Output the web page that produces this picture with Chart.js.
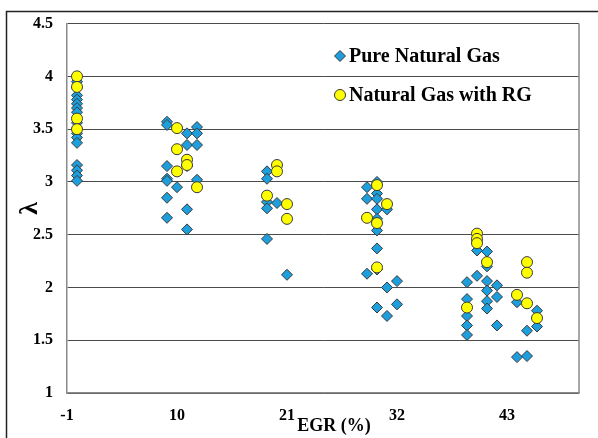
<!DOCTYPE html>
<html>
<head>
<meta charset="utf-8">
<script src="https://cdn.jsdelivr.net/npm/chart.js@4.4.1/dist/chart.umd.min.js"></script>
<style>
html, body { margin: 0; padding: 0; background: #fff; }
#wrap { position: relative; width: 598px; height: 438px; }
</style>
</head>
<body>
<div id="wrap"><canvas id="lambdaChart" width="598" height="438"></canvas></div>
<script>
// EGR (%) ticks on the horizontal axis
const xTicks = [-1, 10, 21, 32, 43];

// Pure natural gas: EGR and lambda
const egrPure = [
  0, 0, 0, 0, 0, 0, 0, 0, 0, 0, 0, 0, 0, 0,
  9, 9, 9, 9, 9, 9, 9, 10, 11, 11, 11, 11, 11, 12, 12, 12, 12,
  19, 19, 19, 19, 19, 20, 21,
  29, 29, 29, 30, 30, 30, 30, 30, 30, 30, 30, 30, 31, 31, 31, 32, 32,
  39, 39, 39, 39, 39, 39, 40, 40, 41, 41, 41, 41, 41, 41, 42, 42, 42, 44, 44, 45, 45, 46, 46
];
const lambdaPure = [
  3.95, 3.82, 3.78, 3.74, 3.70, 3.66, 3.56, 3.46, 3.42, 3.37, 3.16, 3.11, 3.06, 3.01,
  3.57, 3.54, 3.15, 3.03, 3.01, 2.85, 2.66, 2.95, 3.46, 3.35, 3.15, 2.74, 2.55, 3.52, 3.46, 3.35, 3.02,
  3.10, 3.03, 2.81, 2.75, 2.46, 2.80, 2.12,
  2.95, 2.84, 2.13, 3.00, 2.89, 2.84, 2.74, 2.65, 2.54, 2.37, 2.17, 1.81, 2.74, 2.00, 1.73, 2.06, 1.84,
  2.05, 1.89, 1.81, 1.73, 1.64, 1.55, 2.35, 2.11, 2.34, 2.20, 2.06, 1.97, 1.87, 1.80, 2.02, 1.91, 1.64, 1.86, 1.34, 1.59, 1.35, 1.78, 1.63
];

// Natural gas with RG: EGR and lambda
const egrRG = [
  0, 0, 0, 0,
  10, 10, 10, 11, 11, 12,
  19, 20, 20, 21, 21,
  29, 30, 30, 30, 31,
  39, 40, 40, 40, 41, 44, 45, 45, 45, 46
];
const lambdaRG = [
  4.00, 3.90, 3.60, 3.50,
  3.51, 3.31, 3.10, 3.21, 3.16, 2.95,
  2.87, 3.16, 3.10, 2.79, 2.65,
  2.66, 2.97, 2.61, 2.19, 2.79,
  1.81, 2.51, 2.46, 2.42, 2.24, 1.93, 2.24, 2.14, 1.85, 1.71
];

const seriesNames = ['Pure Natural Gas', 'Natural Gas with RG'];

const serif = "'Liberation Serif', 'Times New Roman', serif";
const blue = '#1C9FDC';
const yellow = '#FFFF00';
const edge = '#3A3A3A';

function toPoints(xs, ys) {
  return xs.map((x, i) => ({ x: x, y: ys[i] }));
}

// cadre, bordure du graphe, légende et titre de l'axe x
const decorPlugin = {
  id: 'decor',
  beforeDraw(chart) {
    const ctx = chart.ctx;
    ctx.save();
    ctx.fillStyle = '#fff';
    ctx.fillRect(0, 0, chart.width, chart.height);
    ctx.strokeStyle = '#222';
    ctx.lineWidth = 1.5;
    ctx.beginPath();
    ctx.moveTo(6.5, chart.height);
    ctx.lineTo(6.5, 11.5);
    ctx.lineTo(chart.width, 11.5);
    ctx.stroke();
    ctx.restore();
  },
  beforeDatasetsDraw(chart) {
    const ctx = chart.ctx;
    const a = chart.chartArea;
    ctx.save();
    ctx.strokeStyle = '#8a8a8a';
    ctx.lineWidth = 1.5;
    ctx.beginPath();
    ctx.moveTo(a.right, a.top);
    ctx.lineTo(a.right, a.bottom);
    ctx.stroke();
    ctx.restore();
  },
  afterDraw(chart) {
    const ctx = chart.ctx;
    ctx.save();
    // légende
    const rows = [
      { y: 56, style: 'rectRot', radius: 5.5, fill: blue, text: seriesNames[0] },
      { y: 95, style: 'circle', radius: 5.5, fill: yellow, text: seriesNames[1] }
    ];
    rows.forEach(r => {
      ctx.fillStyle = r.fill;
      ctx.strokeStyle = edge;
      ctx.lineWidth = 1;
      Chart.helpers.drawPoint(ctx, { pointStyle: r.style, radius: r.radius, rotation: 0, borderWidth: 1 }, 340, r.y);
      ctx.fillStyle = '#000';
      ctx.font = 'bold 20px ' + serif;
      ctx.textAlign = 'left';
      ctx.textBaseline = 'middle';
      ctx.fillText(r.text, 349, r.y + 1);
    });
    // titre de l'axe x
    ctx.font = 'bold 18px ' + serif;
    ctx.textAlign = 'center';
    ctx.textBaseline = 'middle';
    ctx.fillStyle = '#000';
    ctx.fillText('EGR (%)', 334, 426);
    ctx.restore();
  }
};

const canvas = document.getElementById('lambdaChart');
new Chart(canvas.getContext('2d'), {
  type: 'scatter',
  data: {
    datasets: [
      {
        label: seriesNames[0],
        data: toPoints(egrPure, lambdaPure),
        pointStyle: 'rectRot',
        pointRadius: 5.5,
        pointHoverRadius: 5.5,
        backgroundColor: blue,
        borderColor: edge,
        borderWidth: 1,
        clip: false,
        order: 1
      },
      {
        label: seriesNames[1],
        data: toPoints(egrRG, lambdaRG),
        pointStyle: 'circle',
        pointRadius: 5.5,
        pointHoverRadius: 5.5,
        backgroundColor: yellow,
        borderColor: edge,
        borderWidth: 1,
        clip: false,
        order: 0
      }
    ]
  },
  options: {
    responsive: false,
    animation: false,
    devicePixelRatio: 1,
    layout: { padding: { top: 23, right: 19, left: 0, bottom: 0 } },
    plugins: {
      legend: { display: false },
      tooltip: { enabled: false }
    },
    scales: {
      x: {
        type: 'linear',
        min: -1,
        max: 50.2,
        afterBuildTicks: axis => { axis.ticks = xTicks.map(v => ({ value: v })); },
        afterFit: axis => { axis.height = 45; },
        grid: { display: false, drawTicks: false },
        border: { display: true, color: '#8a8a8a', width: 1.5 },
        ticks: {
          color: '#000',
          padding: 13,
          maxRotation: 0,
          font: { family: serif, size: 16, weight: 'bold' },
          callback: v => String(v)
        }
      },
      y: {
        min: 1,
        max: 4.5,
        afterFit: axis => { axis.width = 67; },
        grid: { color: '#4a4a4a', lineWidth: 1, drawTicks: false },
        border: { display: true, color: '#8a8a8a', width: 1.5 },
        ticks: {
          stepSize: 0.5,
          color: '#000',
          padding: 14,
          font: { family: serif, size: 16, weight: 'bold' },
          callback: v => String(v)
        },
        title: {
          display: true,
          text: 'λ',
          color: '#000',
          font: { family: serif, size: 26, weight: 'bold' },
          padding: { top: 15, bottom: 0 }
        }
      }
    }
  },
  plugins: [decorPlugin]
});
</script>
</body>
</html>
